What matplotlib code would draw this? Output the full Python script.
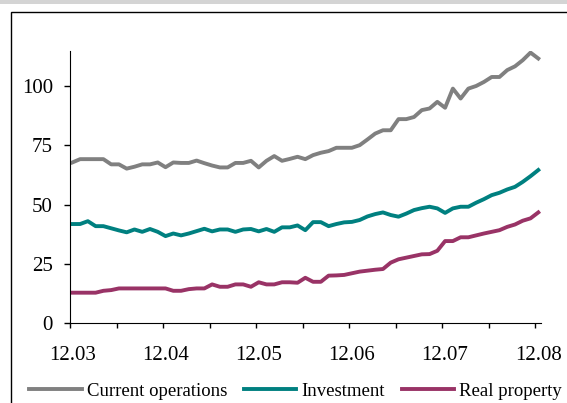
import numpy as np
import matplotlib
matplotlib.use("Agg")
import matplotlib.pyplot as plt
from matplotlib.patches import Rectangle

plt.rcParams['font.family'] = ['Liberation Serif', 'DejaVu Serif']

# monthly values, 12.03 .. 12.08
current_ops = [67.8, 69.2, 69.2, 69.2, 69.2, 67.0, 67.0, 65.2, 66.0, 67.0,
               67.0, 67.8, 65.8, 67.8, 67.6, 67.6, 68.6, 67.5, 66.5, 65.7,
               65.7, 67.6, 67.6, 68.5, 65.7, 68.5, 70.5, 68.5, 69.3, 70.2,
               69.2, 70.9, 71.9, 72.6, 74.0, 74.0, 74.0, 75.1, 77.5, 80.0,
               81.4, 81.4, 86.1, 86.1, 87.0, 89.9, 90.6, 93.4, 90.9, 99.0,
               94.8, 99.0, 100.1, 101.8, 103.9, 103.9, 106.8, 108.4, 111.0, 114.2,
               111.7]
investment = [41.8, 41.8, 43.0, 40.9, 40.9, 40.0, 39.1, 38.3, 39.5, 38.5,
              39.7, 38.5, 36.7, 37.8, 37.0, 37.8, 38.8, 39.8, 38.7, 39.5,
              39.5, 38.5, 39.5, 39.7, 38.7, 39.7, 38.5, 40.4, 40.4, 41.2,
              39.2, 42.6, 42.6, 40.9, 41.8, 42.5, 42.7, 43.5, 45.0, 46.0,
              46.7, 45.6, 44.9, 46.2, 47.7, 48.5, 49.1, 48.4, 46.5, 48.4,
              49.1, 49.1, 50.8, 52.3, 54.0, 55.0, 56.4, 57.5, 59.6, 62.0,
              64.6]
real_property = [12.8, 12.8, 12.8, 12.8, 13.6, 13.9, 14.6, 14.6, 14.6, 14.6,
                 14.6, 14.6, 14.6, 13.6, 13.6, 14.3, 14.6, 14.6, 16.3, 15.3,
                 15.3, 16.3, 16.3, 15.3, 17.2, 16.3, 16.3, 17.2, 17.2, 17.0,
                 19.1, 17.4, 17.4, 20.0, 20.1, 20.3, 21.0, 21.7, 22.1, 22.5,
                 22.8, 25.5, 26.9, 27.6, 28.3, 29.0, 29.1, 30.5, 34.6, 34.6,
                 36.2, 36.2, 37.0, 37.8, 38.5, 39.2, 40.6, 41.6, 43.2, 44.2,
                 46.7]
year_labels = ["12.03", "12.04", "12.05", "12.06", "12.07", "12.08"]
y_ticks = [0, 25, 50, 75, 100]

W, H = 567, 403
fig = plt.figure(figsize=(W / 100, H / 100), dpi=100)

# outer frame and grey strip at the top
fig.patches.append(Rectangle((0, 1 - 3.5 / H), 1, 3.5 / H, transform=fig.transFigure,
                             facecolor="#d4d4d4", edgecolor="none"))
fig.patches.append(Rectangle((11 / W, -0.05), 1.1, 1.05 - 12.5 / H, transform=fig.transFigure,
                             facecolor="none", edgecolor="black", linewidth=1.0))

ax = fig.add_axes([70 / W, 1 - 323 / H, (541 - 70) / W, (323 - 50.7) / H])
x = np.arange(len(current_ops))
ax.plot(x, current_ops, color="#808080", lw=2.8, label="Current operations")
ax.plot(x, investment, color="#008080", lw=2.8, label="Investment")
ax.plot(x, real_property, color="#993366", lw=2.8, label="Real property")

ax.set_xlim(-0.3, 60.35)
ax.set_ylim(0, 115)
for s in ["top", "right"]:
    ax.spines[s].set_visible(False)

ax.set_yticks(y_ticks)
ax.tick_params(axis="y", direction="out", length=4.3, width=1, pad=8, labelsize=15)
ax.set_xticks(np.arange(0, 61, 12))
ax.set_xticklabels(year_labels)
ax.set_xticks(np.linspace(-0.3, 59.6, 11), minor=True)
ax.tick_params(axis="x", which="major", length=0, pad=16.5, labelsize=15)
ax.tick_params(axis="x", which="minor", direction="out", length=3.8, width=1)

fig.legend(loc="center left", bbox_to_anchor=(29 / W, 1 - 391 / H), ncol=3,
           frameon=False, fontsize=13.5, handlelength=2.8, handletextpad=0.27,
           columnspacing=0.9, borderpad=0, borderaxespad=0)

fig.savefig("out.png", dpi=100)
